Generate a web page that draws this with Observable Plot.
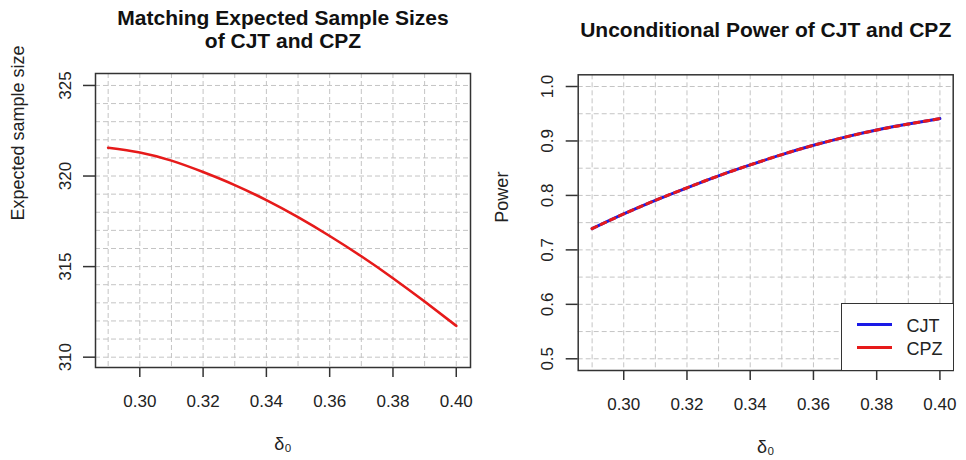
<!DOCTYPE html>
<html>
<head>
<meta charset="utf-8">
<script src="https://cdn.jsdelivr.net/npm/d3@7"></script>
<script src="https://cdn.jsdelivr.net/npm/@observablehq/plot@0.6"></script>
<style>
  html, body { margin: 0; padding: 0; background: #fff; }
  #wrap { position: relative; width: 966px; height: 460px; overflow: hidden; font-family: "Liberation Sans", Arial, sans-serif; }
  .panel { position: absolute; top: 0; }
  #legend { position: absolute; box-sizing: border-box; background: #fff; border: 1.5px solid #333; }
  .lg-row { position: absolute; left: 0; height: 20px; }
  .lg-line { position: absolute; width: 35px; height: 0; border-top: 3px solid; }
  .lg-text { position: absolute; font-size: 18px; color: #222; line-height: 20px; }
</style>
</head>
<body>
<div id="wrap"></div>
<script>
// ---- data ----
const delta = [0.29, 0.30, 0.31, 0.32, 0.33, 0.34, 0.35, 0.36, 0.37, 0.38, 0.39, 0.40];
const expectedSampleSize = [321.56, 321.30, 320.85, 320.22, 319.50, 318.67, 317.73, 316.69, 315.57, 314.36, 313.07, 311.73];
const powerCJT = [0.739, 0.766, 0.791, 0.814, 0.836, 0.856, 0.875, 0.892, 0.907, 0.920, 0.931, 0.941];
const powerCPZ = [0.739, 0.766, 0.791, 0.814, 0.836, 0.856, 0.875, 0.892, 0.907, 0.920, 0.931, 0.941];
const seriesNames = ["CJT", "CPZ"];
const seriesColors = ["#1a1ae6", "#e61a1a"];
const xTicks = [0.30, 0.32, 0.34, 0.36, 0.38, 0.40];
const xGrid = [0.29, 0.30, 0.31, 0.32, 0.33, 0.34, 0.35, 0.36, 0.37, 0.38, 0.39, 0.40];
const leftYTicks = [310, 315, 320, 325];
const leftYGrid = [310, 311, 312, 313, 314, 315, 316, 317, 318, 319, 320, 321, 322, 323, 324, 325];
const rightYTicks = [0.5, 0.6, 0.7, 0.8, 0.9, 1.0];
const rightYGrid = [0.50, 0.55, 0.60, 0.65, 0.70, 0.75, 0.80, 0.85, 0.90, 0.95, 1.00];
const leftTitleLines = ["Matching Expected Sample Sizes", "of CJT and CPZ"];
const rightTitle = "Unconditional Power of CJT and CPZ";
const xLabel = "δ₀";
const leftYLabel = "Expected sample size";
const rightYLabel = "Power";

const leftData = delta.map((d, i) => ({x: d, y: expectedSampleSize[i]}));
const cjtData = delta.map((d, i) => ({x: d, y: powerCJT[i]}));
const cpzData = delta.map((d, i) => ({x: d, y: powerCPZ[i]}));

const gridStyle = {stroke: "#c4c4c4", strokeOpacity: 1, strokeWidth: 1, strokeDasharray: "5,3"};
const baseStyle = {fontFamily: "'Liberation Sans', Arial, sans-serif", fontSize: "17px", color: "#222", background: "transparent", overflow: "visible"};
const titleStyle = {frameAnchor: "top", lineAnchor: "bottom", fontSize: 21, fontWeight: "bold", fill: "#111"};

function panel({xDomain, yDomain, yTicks, yGrid, yFormat, margins, titles, yLabel, yLabelDx, lines}) {
  return Plot.plot({
    width: 483, height: 460,
    marginLeft: margins[0], marginRight: margins[1], marginTop: margins[2], marginBottom: margins[3],
    style: baseStyle,
    x: {domain: xDomain},
    y: {domain: yDomain},
    marks: [
      Plot.gridX(xGrid, gridStyle),
      Plot.gridY(yGrid, gridStyle),
      ...lines,
      Plot.frame({stroke: "#333", strokeWidth: 1.5}),
      Plot.axisX(xTicks, {tickSize: 10, tickPadding: 17, tickFormat: d3.format(".2f"), stroke: "#333", strokeWidth: 1.5, label: null}),
      Plot.axisY(yTicks, {tickSize: 12, tickPadding: 13, tickRotate: -90, tickFormat: yFormat, stroke: "#333", strokeWidth: 1.5, label: null}),
      Plot.text([xLabel], {frameAnchor: "bottom", lineAnchor: "bottom", dy: 82, fontSize: 18}),
      Plot.text([yLabel], {frameAnchor: "left", rotate: -90, lineAnchor: "bottom", dx: yLabelDx, fontSize: 18}),
      ...titles.map(([t, dy]) => Plot.text([t], {...titleStyle, dy}))
    ]
  });
}

const left = panel({
  xDomain: [0.286, 0.4045], yDomain: [309.43, 325.66],
  yTicks: leftYTicks, yGrid: leftYGrid, yFormat: d3.format("d"),
  margins: [95, 13, 73, 93],
  titles: [[leftTitleLines[0], -48.5], [leftTitleLines[1], -25.5]],
  yLabel: leftYLabel, yLabelDx: -71.5,
  lines: [Plot.line(leftData, {x: "x", y: "y", stroke: seriesColors[1], strokeWidth: 2.6, curve: "natural"})]
});

const right = panel({
  xDomain: [0.2856, 0.4042], yDomain: [0.4785, 1.0215],
  yTicks: rightYTicks, yGrid: rightYGrid, yFormat: d3.format(".1f"),
  margins: [94.7, 13.3, 74.3, 90],
  titles: [[rightTitle, -38]],
  yLabel: rightYLabel, yLabelDx: -70,
  lines: [
    Plot.line(cjtData, {x: "x", y: "y", stroke: seriesColors[0], strokeWidth: 3, curve: "natural"}),
    Plot.line(cpzData, {x: "x", y: "y", stroke: seriesColors[1], strokeWidth: 3, strokeDasharray: "5,5", curve: "natural"})
  ]
});

const wrap = document.getElementById("wrap");
const lp = document.createElement("div"); lp.className = "panel"; lp.style.left = "0px"; lp.appendChild(left); wrap.appendChild(lp);
const rp = document.createElement("div"); rp.className = "panel"; rp.style.left = "483px"; rp.appendChild(right); wrap.appendChild(rp);

// legend (HTML overlay)
const legend = document.createElement("div");
legend.id = "legend";
Object.assign(legend.style, {left: "840.5px", top: "303px", width: "113px", height: "68px"});
seriesNames.forEach((name, i) => {
  const row = document.createElement("div");
  row.className = "lg-row";
  row.style.top = (10 + i * 23) + "px";
  row.style.width = "100%";
  const ln = document.createElement("div");
  ln.className = "lg-line";
  ln.style.left = "15px"; ln.style.top = "9px";
  ln.style.borderTopColor = seriesColors[i];
  const tx = document.createElement("div");
  tx.className = "lg-text";
  tx.style.left = "65px"; tx.style.top = "2px";
  tx.textContent = name;
  row.appendChild(ln); row.appendChild(tx);
  legend.appendChild(row);
});
wrap.appendChild(legend);
</script>
</body>
</html>
